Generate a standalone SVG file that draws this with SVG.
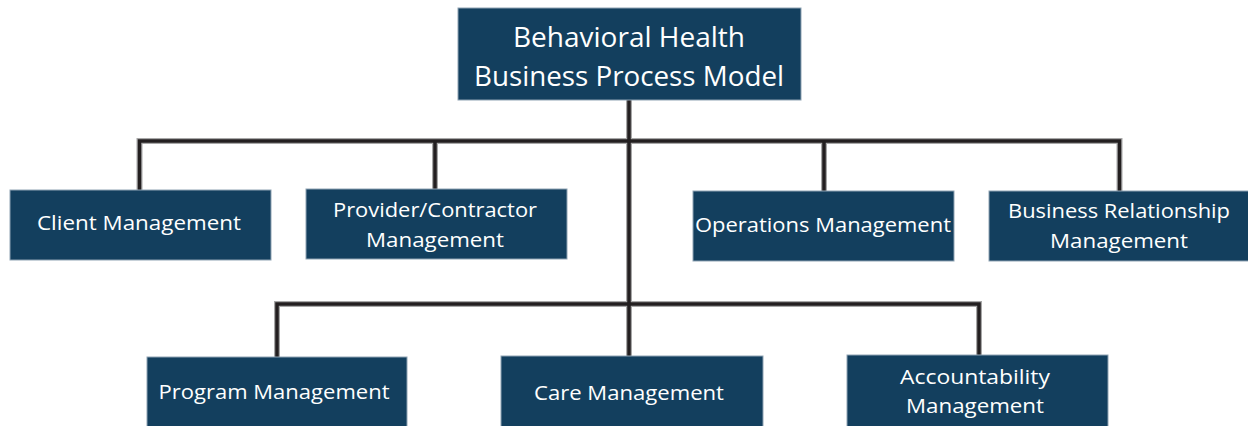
<svg xmlns="http://www.w3.org/2000/svg" width="1248" height="426" viewBox="0 0 1248 426">
<style>
.box{fill:#133f5e;stroke:#8fa3b3;stroke-width:1}
.t{fill:#ffffff;font-family:"Open Sans","Liberation Sans",sans-serif;font-size:20px;text-anchor:middle}
.tt{fill:#ffffff;font-family:"Open Sans","Liberation Sans",sans-serif;font-size:28px;text-anchor:middle}
.halo{fill:none;stroke:#a8a8a8;stroke-width:6;stroke-linejoin:miter}
.ln{fill:none;stroke:#231f20;stroke-width:3.5;stroke-linejoin:miter}
</style>
<rect width="1248" height="426" fill="#ffffff"/>
<g id="connectors">
<path class="halo" d="M629 100 V356 M139.5 190 V141 H1119.5 V191 M435 189 V141 M824 191 V141 M277 357 V304 H979 V355"/>
<path class="ln" d="M629 100 V356 M139.5 190 V141 H1119.5 V191 M435 189 V141 M824 191 V141 M277 357 V304 H979 V355"/>
</g>
<g id="root">
<rect class="box" x="458" y="8" width="343" height="92"/>
<text class="tt" x="629" y="47" textLength="232" lengthAdjust="spacingAndGlyphs">Behavioral Health</text>
<text class="tt" x="629" y="86" textLength="310" lengthAdjust="spacingAndGlyphs">Business Process Model</text>
</g>
<g id="client">
<rect class="box" x="10" y="190" width="261" height="70"/>
<text class="t" x="139" y="230" textLength="204" lengthAdjust="spacingAndGlyphs">Client Management</text>
</g>
<g id="provider">
<rect class="box" x="306" y="189" width="261" height="70"/>
<text class="t" x="435" y="217" textLength="204" lengthAdjust="spacingAndGlyphs">Provider/Contractor</text>
<text class="t" x="435" y="247" textLength="138" lengthAdjust="spacingAndGlyphs">Management</text>
</g>
<g id="operations">
<rect class="box" x="693" y="191" width="261" height="70"/>
<text class="t" x="823" y="232" textLength="256" lengthAdjust="spacingAndGlyphs">Operations Management</text>
</g>
<g id="business">
<rect class="box" x="989" y="191" width="262" height="70"/>
<text class="t" x="1119" y="218" textLength="222" lengthAdjust="spacingAndGlyphs">Business Relationship</text>
<text class="t" x="1119" y="248" textLength="138" lengthAdjust="spacingAndGlyphs">Management</text>
</g>
<g id="program">
<rect class="box" x="147" y="357" width="260" height="72"/>
<text class="t" x="274" y="399" textLength="231" lengthAdjust="spacingAndGlyphs">Program Management</text>
</g>
<g id="care">
<rect class="box" x="501" y="356" width="262" height="72"/>
<text class="t" x="629" y="400" textLength="190" lengthAdjust="spacingAndGlyphs">Care Management</text>
</g>
<g id="accountability">
<rect class="box" x="847" y="355" width="261" height="72"/>
<text class="t" x="975" y="384" textLength="150" lengthAdjust="spacingAndGlyphs">Accountability</text>
<text class="t" x="975" y="413" textLength="138" lengthAdjust="spacingAndGlyphs">Management</text>
</g>
</svg>
